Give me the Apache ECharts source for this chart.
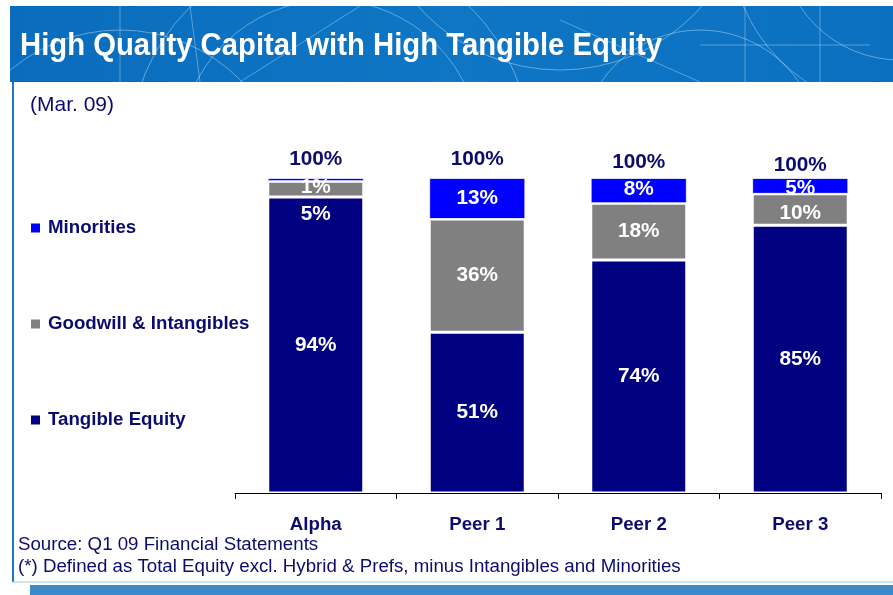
<!DOCTYPE html>
<html><head><meta charset="utf-8">
<script src="https://cdn.jsdelivr.net/npm/echarts@6/dist/echarts.min.js"></script>
<style>html,body{margin:0;padding:0;background:#fff}#c{width:893px;height:595px}</style>
</head><body><div id="c"></div>
<script>
var categories = ['Alpha', 'Peer 1', 'Peer 2', 'Peer 3'];
var tangibleEquity = [94, 51, 74, 85];
var goodwillIntangibles = [5, 36, 18, 10];
var minorities = [1, 13, 8, 5];
var totals = ['100%', '100%', '100%', '100%'];
var seriesNames = ['Minorities', 'Goodwill & Intangibles', 'Tangible Equity'];

var NAVY_TXT = '#0c0c6e';
var FONT = '"Liberation Sans", Arial, sans-serif';
var chart = echarts.init(document.getElementById('c'), null, {renderer: 'canvas'});

// label nudges for small segments (styling only)
var gwOffsets = [[0, 25], [0, 0], [0, 0], [0, 4]];
var miOffsets = [[0, 8], [0, 0], [0, -1], [0, 2]];
var totOffsets = [[0, 0], [0, 0], [0, 3], [0, 6]];

function items(vals, offs) {
  return vals.map(function (v, i) {
    return offs ? {value: v, label: {offset: offs[i]}} : v;
  });
}

var segLabel = {
  show: true, position: 'inside', color: '#fff', fontWeight: 'bold',
  fontSize: 20.8, fontFamily: 'Liberation Sans, Arial, sans-serif',
  formatter: function (p) { return p.value + '%'; }
};

// banner decoration
var deco = [];
var circles = [[330, 150, 200], [330, 150, 150], [900, -60, 170], [900, -60, 120], [120, 200, 170], [700, 150, 120], [560, -120, 190]];
circles.forEach(function (c) {
  deco.push({type: 'circle', z: -9, shape: {cx: c[0], cy: c[1], r: c[2]}, style: {fill: null, stroke: 'rgba(200,230,255,0.45)', lineWidth: 1}});
});
var lines = [[120, 6, 120, 82], [190, 6, 200, 82], [745, 6, 745, 82], [820, 6, 820, 82], [700, 45, 870, 45], [240, 82, 360, 6], [560, 20, 700, 82]];
lines.forEach(function (l) {
  deco.push({type: 'line', z: -9, shape: {x1: l[0], y1: l[1], x2: l[2], y2: l[3]}, style: {stroke: 'rgba(200,230,255,0.4)', lineWidth: 1}});
});

var graphics = [
  {type: 'rect', z: -10, shape: {x: 10, y: 6, width: 883, height: 76},
   style: {fill: new echarts.graphic.LinearGradient(0, 0, 1, 0, [{offset: 0, color: '#0a6cbc'}, {offset: 0.5, color: '#0e76c4'}, {offset: 1, color: '#0b70c0'}])}}
].concat(deco).concat([
  // covers to clip decoration to the banner
  {type: 'rect', z: -8, shape: {x: 0, y: 82, width: 893, height: 513}, style: {fill: '#fff'}},
  {type: 'rect', z: -8, shape: {x: 0, y: 0, width: 893, height: 6}, style: {fill: '#fff'}},
  {type: 'rect', z: -8, shape: {x: 0, y: 0, width: 10, height: 82}, style: {fill: '#fff'}},
  // title
  {type: 'text', z: -5, x: 20, y: 47, scaleX: 0.96,
   style: {text: 'High Quality Capital with High Tangible Equity', fill: '#fff', font: 'bold 30.5px ' + FONT, verticalAlign: 'middle'}},
  // frame
  {type: 'line', z: -5, shape: {x1: 13, y1: 82, x2: 13, y2: 582}, style: {stroke: '#1f7ac6', lineWidth: 2}},
  {type: 'line', z: -5, shape: {x1: 13, y1: 582, x2: 893, y2: 582}, style: {stroke: '#9cc6e8', lineWidth: 1}},
  {type: 'rect', z: -5, shape: {x: 30, y: 585, width: 863, height: 10}, style: {fill: '#3b8bcb'}},
  // subtitle and notes
  {type: 'text', z: -5, x: 30, y: 105, style: {text: '(Mar. 09)', fill: NAVY_TXT, font: '21px ' + FONT, verticalAlign: 'middle'}},
  {type: 'text', z: -5, x: 18, y: 545, style: {text: 'Source: Q1 09 Financial Statements', fill: NAVY_TXT, font: '18.7px ' + FONT, verticalAlign: 'middle'}},
  {type: 'text', z: -5, x: 18, y: 567, style: {text: '(*) Defined as Total Equity excl. Hybrid & Prefs, minus Intangibles and Minorities', fill: NAVY_TXT, font: '18.7px ' + FONT, verticalAlign: 'middle'}}
]);

var option = {
  animation: false,
  backgroundColor: '#fff',
  graphic: graphics,
  legend: {
    data: seriesNames,
    orient: 'vertical', left: 29, top: 218, padding: 0,
    itemWidth: 11, itemHeight: 11, itemGap: 76,
    icon: 'rect',
    textStyle: {color: NAVY_TXT, fontWeight: 'bold', fontSize: 18.7, lineHeight: 20,
      fontFamily: 'Liberation Sans, Arial, sans-serif', padding: [0, 0, 0, 2]},
    selectedMode: false
  },
  grid: {left: 235, right: 12, top: 178, bottom: 102},
  xAxis: {
    type: 'category', data: categories, z: 5,
    axisLine: {lineStyle: {color: '#000', width: 1}},
    axisTick: {show: true, length: 6, lineStyle: {color: '#000'}},
    axisLabel: {color: NAVY_TXT, fontWeight: 'bold', fontSize: 18.7, margin: 22,
      fontFamily: 'Liberation Sans, Arial, sans-serif'}
  },
  yAxis: {type: 'value', min: 0, max: 100, show: false, splitLine: {show: false}},
  series: [
    {name: 'Tangible Equity', type: 'bar', stack: 'cap', barWidth: 96,
     data: tangibleEquity, itemStyle: {color: '#000080', borderColor: '#fff', borderWidth: 1.5},
     label: segLabel},
    {name: 'Goodwill & Intangibles', type: 'bar', stack: 'cap',
     data: items(goodwillIntangibles, gwOffsets), itemStyle: {color: '#808080', borderColor: '#fff', borderWidth: 1.5},
     label: segLabel},
    {name: 'Minorities', type: 'bar', stack: 'cap',
     data: items(minorities, miOffsets), itemStyle: {color: '#0000ff', borderColor: '#fff', borderWidth: 0.8},
     label: segLabel},
    {name: 'Total', type: 'bar', stack: 'cap',
     data: totals.map(function (t, i) { return {value: 0, label: {offset: totOffsets[i]}}; }),
     itemStyle: {color: 'transparent'},
     label: {show: true, position: 'top', distance: 8, color: NAVY_TXT, fontWeight: 'bold', fontSize: 20.8,
       fontFamily: 'Liberation Sans, Arial, sans-serif',
       formatter: function (p) { return totals[p.dataIndex]; }}}
  ]
};
chart.setOption(option);
</script></body></html>
